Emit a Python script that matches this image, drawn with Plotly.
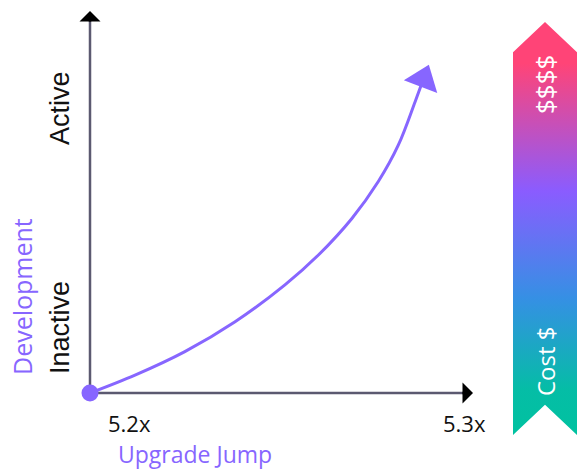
import plotly.graph_objects as go

# ---- data ----
X_TICK_LABELS = ["5.2x", "5.3x"]
Y_TICK_LABELS = ["Inactive", "Active"]
X_TITLE = "Upgrade Jump"
Y_TITLE = "Development"
COST_LOW = "Cost $"
COST_HIGH = "$$$$"

CURVE_X = [5.2000, 5.2121, 5.2255, 5.2390, 5.2524, 5.2614, 5.2704, 5.2775, 5.2829, 5.2874, 5.2896]
CURVE_Y = [0.000, 0.048, 0.111, 0.191, 0.290, 0.370, 0.468, 0.567, 0.665, 0.781, 0.841]

# unit-shape of the cost banner (arrow pointing up, notched tail)
BANNER_X = [0, 0, 0.5, 1, 1, 0.5, 0]
BANNER_Y = [0, 0.927, 1, 0.927, 0, 0.073, 0]

PURPLE = "#8766FF"
AXIS_GRAY = "#5B5970"
W, H = 578, 470

fig = go.Figure()

# cost banner with vertical gradient
fig.add_trace(go.Scatter(
    x=BANNER_X, y=BANNER_Y, xaxis="x2", yaxis="y2",
    mode="lines", fill="toself", line=dict(width=0),
    fillgradient=dict(
        type="vertical", start=0, stop=1,
        colorscale=[[0, "#00C2A0"], [0.11, "#05BDA6"], [0.33, "#3590E4"],
                    [0.59, "#8A5CFF"], [0.9, "#FF4477"], [1, "#FF4477"]],
    ),
    hoverinfo="skip", showlegend=False,
))

# curve
fig.add_trace(go.Scatter(
    x=CURVE_X, y=CURVE_Y, mode="lines",
    line=dict(color=PURPLE, width=3, shape="spline", smoothing=1.0),
    hoverinfo="skip", showlegend=False,
))
# start dot
fig.add_trace(go.Scatter(
    x=[CURVE_X[0]], y=[CURVE_Y[0]], mode="markers",
    marker=dict(color=PURPLE, size=17, line=dict(width=0)),
    hoverinfo="skip", showlegend=False,
))
# arrow head at end of curve
fig.add_trace(go.Scatter(
    x=[CURVE_X[-1]], y=[CURVE_Y[-1]], mode="markers",
    marker=dict(color=PURPLE, size=31, symbol="triangle-up", angle=21, line=dict(width=0)),
    hoverinfo="skip", showlegend=False,
))

x0 = 5.2

def px_to_x(px):
    return 5.2 + (px - 90) / 3720.0

def py_to_y(py):
    return (393 - py) / 373.0

shapes = [
    dict(type="line", x0=x0, y0=0, x1=x0, y1=py_to_y(20), line=dict(color=AXIS_GRAY, width=2.5), layer="below"),
    dict(type="line", x0=x0, y0=0, x1=px_to_x(464), y1=0, line=dict(color=AXIS_GRAY, width=2.5), layer="below"),
]

annotations = [
    dict(x=x0, y=py_to_y(11), ax=0, ay=12, xref="x", yref="y", showarrow=True,
         arrowhead=1, arrowsize=1.4, arrowwidth=2.5, arrowcolor="#000000", text="", standoff=0),
    dict(x=px_to_x(473), y=0, ax=-12, ay=0, xref="x", yref="y", showarrow=True,
         arrowhead=1, arrowsize=1.4, arrowwidth=2.5, arrowcolor="#000000", text="", standoff=0),
]

def ann(text, px, py, size, color, family, angle=0):
    annotations.append(dict(
        text=text, x=px / W, y=1 - py / H, xref="paper", yref="paper",
        showarrow=False, textangle=angle, xanchor="center", yanchor="middle",
        font=dict(size=size, color=color, family=family),
    ))

ann(X_TICK_LABELS[0], 129, 423, 22, "#111111", "Open Sans")
ann(X_TICK_LABELS[1], 464, 423, 22, "#111111", "Open Sans")
ann(X_TITLE, 195, 454, 23, PURPLE, "Open Sans")
ann(Y_TICK_LABELS[1], 60, 108, 27, "#111111", "Liberation Sans", -90)
ann(Y_TICK_LABELS[0], 60, 328, 27, "#111111", "Liberation Sans", -90)
ann(Y_TITLE, 22, 297, 25, PURPLE, "Open Sans", -90)
ann(COST_HIGH, 545, 85, 26, "#FFFFFF", "Open Sans", -90)
ann(COST_LOW, 545, 361, 24, "#FFFFFF", "Open Sans", -90)

fig.update_layout(
    width=W, height=H,
    margin=dict(l=0, r=0, t=0, b=0),
    paper_bgcolor="white", plot_bgcolor="white",
    xaxis=dict(range=[px_to_x(0), px_to_x(W)], visible=False, fixedrange=True),
    yaxis=dict(range=[py_to_y(H), py_to_y(0)], visible=False, fixedrange=True),
    xaxis2=dict(domain=[513 / W, 577 / W], range=[0, 1], visible=False, anchor="y2"),
    yaxis2=dict(domain=[1 - 435 / H, 1 - 22 / H], range=[0, 1], visible=False, anchor="x2"),
    shapes=shapes,
    annotations=annotations,
    showlegend=False,
)

fig.write_html(
    "out.html",
    config={"displayModeBar": False},
    post_script="document.body.style.margin='0';document.body.style.overflow='hidden';",
)
